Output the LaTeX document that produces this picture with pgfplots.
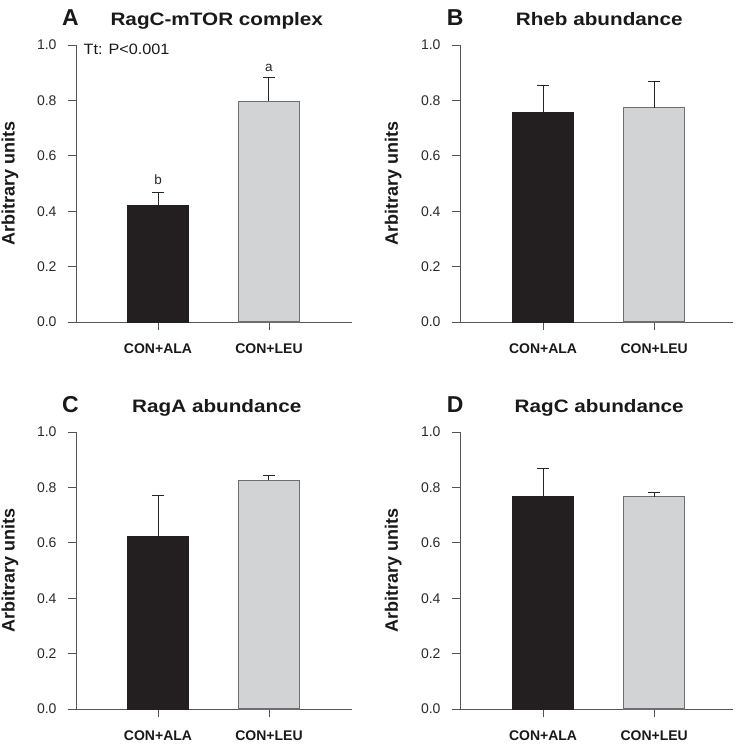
\documentclass[border=0pt]{standalone}
\usepackage{pgfplots}
\pgfplotsset{compat=1.18}
\usepackage{fontspec}
\setmainfont{Liberation Sans}
\newfontfamily\titlefont[FakeStretch=1.15]{Liberation Sans}
\newfontfamily\notefont[FakeStretch=1.08]{Liberation Sans}
\definecolor{barblack}{HTML}{231F20}
\definecolor{bargray}{HTML}{D1D3D4}
\definecolor{edgegray}{HTML}{6D6E71}
\definecolor{axgray}{HTML}{555555}
\definecolor{txtgray}{HTML}{2A2A2A}

\tikzset{
  plabel/.style={font=\fontsize{23}{24}\selectfont\bfseries, anchor=base, yshift=19.5pt, text=black!90},
}
\pgfplotsset{
  panel/.style={
    scale only axis, width=276pt, height=277pt,
    anchor=south west,
    ymin=0, ymax=1, xmin=0.261, xmax=2.748,
    axis x line*=bottom, axis y line*=left,
    axis line style={axgray, line width=0.9pt, -},
    tick align=outside, major tick length=8pt,
    tick style={axgray, line width=0.9pt},
    ytick={0,0.2,0.4,0.6,0.8,1.0},
    yticklabel style={/pgf/number format/fixed, /pgf/number format/fixed zerofill, /pgf/number format/precision=1,
      font=\fontsize{14}{15}\selectfont, text=txtgray, xshift=-8pt},
    /pgf/number format/assume math mode=true,
    xtick={1,2}, xticklabels={CON+ALA, CON+LEU},
    xticklabel style={font=\fontsize{14}{16}\selectfont\bfseries, text=black!90, yshift=-10pt},
    ylabel={Arbitrary units},
    ylabel style={font=\fontsize{18}{19}\selectfont\bfseries, at={(axis description cs:-0.239,0.5)}, anchor=center, text=black!90},
    title style={font=\titlefont\fontsize{18}{19}\selectfont\bfseries, at={(axis description cs:0.51,1)}, anchor=base, yshift=13.5pt, text=black!90},
    clip=false,
  },
  panelright/.style={panel, width=273pt, xmin=0.252, xmax=2.71,
    ylabel style={at={(axis description cs:-0.245,0.5)}}},
  blackbar/.style={ybar, bar width=61pt, bar shift=0pt, fill=barblack, draw=barblack, line width=0.8pt,
    error bars/.cd, y dir=plus, y explicit,
    error bar style={line width=1pt, draw=black!85},
    error mark options={rotate=90, line width=1pt, mark size=6pt, draw=black!85}},
  graybar/.style={ybar, bar width=61pt, bar shift=0pt, fill=bargray, draw=edgegray, line width=1.1pt,
    error bars/.cd, y dir=plus, y explicit,
    error bar style={line width=1pt, draw=black!85},
    error mark options={rotate=90, line width=1pt, mark size=6pt, draw=black!85}},
}

\begin{document}
\begin{tikzpicture}
\useasboundingbox (0pt,0pt) rectangle (738pt,745pt);

% Panel A
\begin{axis}[panel, at={(76pt,423pt)}, title={RagC-mTOR complex}]
  \addplot[blackbar] coordinates {(1,0.422) +- (0,0.046)};
  \addplot[graybar] coordinates {(2,0.797) +- (0,0.087)};
  \node[plabel] at (axis description cs:-0.02,1) {A};
  \node[anchor=base west, font=\notefont\fontsize{15}{16}\selectfont, text=black!90] at (axis description cs:0.015,0.964) {Tt: P<0.001};
  \node[anchor=base, font=\fontsize{13.5}{14}\selectfont, text=black!85] at (axis cs:1,0.495) {b};
  \node[anchor=base, font=\fontsize{13.5}{14}\selectfont, text=black!85] at (axis cs:2,0.904) {a};
\end{axis}

% Panel B
\begin{axis}[panelright, at={(460pt,423pt)}, title={Rheb abundance}]
  \addplot[blackbar] coordinates {(1,0.757) +- (0,0.095)};
  \addplot[graybar] coordinates {(2,0.773) +- (0,0.095)};
  \node[plabel] at (axis description cs:-0.018,1) {B};
\end{axis}

% Panel C
\begin{axis}[panel, at={(76pt,36pt)}, title={RagA abundance}]
  \addplot[blackbar] coordinates {(1,0.622) +- (0,0.148)};
  \addplot[graybar] coordinates {(2,0.826) +- (0,0.018)};
  \node[plabel] at (axis description cs:-0.02,1) {C};
\end{axis}

% Panel D
\begin{axis}[panelright, at={(460pt,36pt)}, title={RagC abundance}]
  \addplot[blackbar] coordinates {(1,0.768) +- (0,0.102)};
  \addplot[graybar] coordinates {(2,0.766) +- (0,0.014)};
  \node[plabel] at (axis description cs:-0.018,1) {D};
\end{axis}
\end{tikzpicture}
\end{document}
